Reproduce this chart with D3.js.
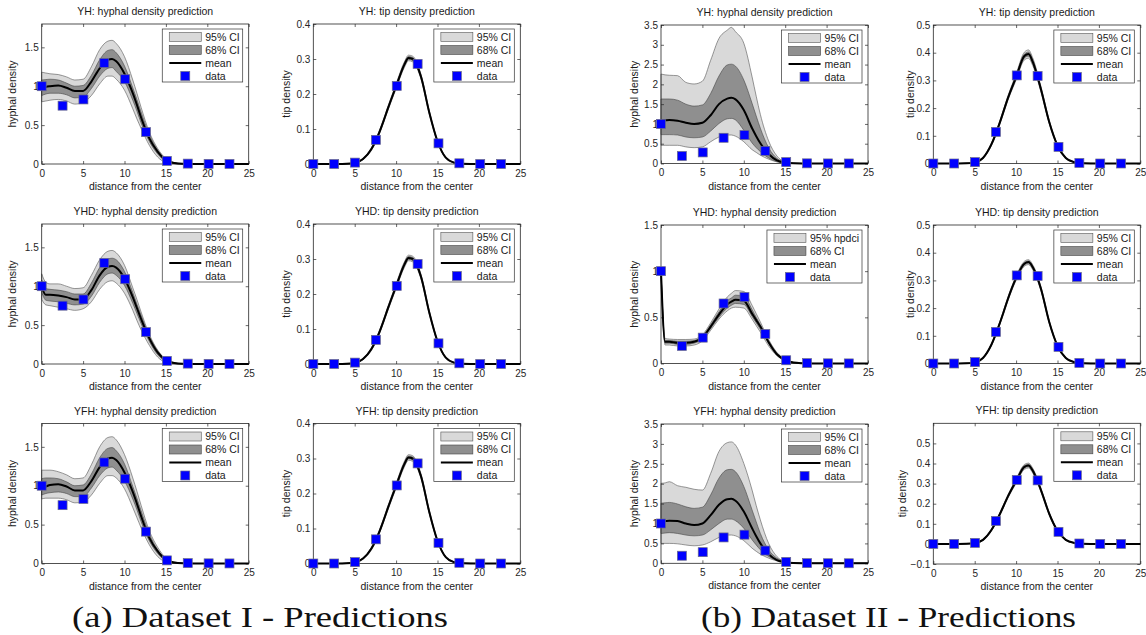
<!DOCTYPE html>
<html><head><meta charset="utf-8">
<script src="https://cdn.jsdelivr.net/npm/d3@7"></script>
<style>
html,body{margin:0;padding:0;background:#fff;}
svg{display:block;font-family:"Liberation Sans",Arial,Helvetica,sans-serif;}
</style></head><body>
<svg id="fig" width="1146" height="635"></svg>
<script>
// radial positions at which the model curves are sampled
const gridX = [0,0.5,1,2,3,4,5,6,7,8,8.5,9,10,11,11.5,12,13,14,15,16,17,18,20,25];
// measurement positions (distance from the colony center)
const dataX = [0,2.52,5.04,7.56,10.08,12.6,15.12,17.64,20.16,22.68];

// measured densities
const hypDataI  = [1.0,0.75,0.83,1.30,1.09,0.41,0.04,0.005,0.002,0.001];
const tipDataI  = [0,0,0.004,0.069,0.223,0.286,0.059,0.002,0,0];
const hypDataII = [1.0,0.19,0.28,0.65,0.72,0.32,0.035,0.004,0.002,0.001];
const tipDataII = [0,0,0.005,0.114,0.318,0.316,0.060,0.002,0,0];

// Dataset I, hyphal density, model YH
const hypI_YH_mean = [0.97,0.99,1.00,1.01,0.98,0.94,0.94,1.06,1.23,1.34,1.35,1.32,1.16,0.91,0.76,0.60,0.33,0.16,0.05,0.013,0.003,0.001,0,0];
const hypI_YH_hi95 = [1.18,1.17,1.16,1.15,1.12,1.08,1.09,1.25,1.47,1.58,1.59,1.55,1.38,1.08,0.91,0.73,0.41,0.20,0.07,0.02,0.005,0.001,0,0];
const hypI_YH_lo95 = [0.80,0.81,0.82,0.83,0.81,0.77,0.79,0.88,1.03,1.13,1.13,1.09,0.95,0.71,0.58,0.46,0.24,0.09,0.02,0.005,0.001,0,0,0];
const hypI_YH_hi68 = [1.08,1.085,1.09,1.08,1.04,1.00,1.01,1.14,1.34,1.46,1.47,1.43,1.26,0.98,0.83,0.67,0.38,0.18,0.06,0.015,0.004,0.001,0,0];
const hypI_YH_lo68 = [0.88,0.90,0.91,0.91,0.89,0.85,0.86,0.97,1.13,1.23,1.24,1.19,1.06,0.82,0.68,0.53,0.29,0.13,0.035,0.01,0.002,0,0,0];

// Dataset I, hyphal density, model YHD
const hypI_YHD_mean = [0.99,0.89,0.89,0.88,0.86,0.83,0.83,0.95,1.14,1.25,1.26,1.24,1.10,0.86,0.72,0.58,0.33,0.15,0.05,0.013,0.003,0.001,0,0];
const hypI_YHD_hi95 = [1.16,1.05,1.03,1.03,1.00,0.97,0.98,1.14,1.34,1.45,1.46,1.43,1.27,0.98,0.83,0.67,0.38,0.18,0.06,0.015,0.004,0.001,0,0];
const hypI_YHD_lo95 = [0.83,0.76,0.75,0.73,0.71,0.69,0.71,0.80,0.96,1.06,1.07,1.04,0.91,0.69,0.56,0.44,0.24,0.09,0.02,0.004,0.001,0,0,0];
const hypI_YHD_hi68 = [1.08,0.97,0.96,0.95,0.93,0.90,0.90,1.04,1.24,1.35,1.36,1.34,1.19,0.92,0.77,0.63,0.36,0.17,0.055,0.014,0.003,0.001,0,0];
const hypI_YHD_lo68 = [0.92,0.82,0.81,0.80,0.78,0.76,0.77,0.87,1.05,1.16,1.17,1.14,1.01,0.78,0.65,0.52,0.29,0.12,0.035,0.008,0.002,0,0,0];

// Dataset I, hyphal density, model YFH
const hypI_YFH_mean = [0.98,0.99,1.01,1.02,0.99,0.94,0.94,1.06,1.24,1.35,1.36,1.33,1.17,0.92,0.77,0.61,0.33,0.16,0.05,0.013,0.003,0.001,0,0];
const hypI_YFH_hi95 = [1.20,1.20,1.20,1.18,1.14,1.09,1.10,1.27,1.50,1.62,1.63,1.59,1.40,1.10,0.93,0.75,0.42,0.21,0.07,0.02,0.005,0.001,0,0];
const hypI_YFH_lo95 = [0.83,0.84,0.84,0.84,0.82,0.78,0.79,0.88,1.03,1.13,1.13,1.10,0.96,0.72,0.59,0.46,0.24,0.09,0.02,0.005,0.001,0,0,0];
const hypI_YFH_hi68 = [1.09,1.10,1.10,1.09,1.05,1.00,1.01,1.15,1.36,1.48,1.49,1.45,1.28,0.99,0.84,0.68,0.38,0.18,0.06,0.015,0.004,0.001,0,0];
const hypI_YFH_lo68 = [0.88,0.90,0.91,0.92,0.90,0.86,0.86,0.97,1.13,1.23,1.24,1.20,1.06,0.83,0.69,0.54,0.29,0.13,0.035,0.01,0.002,0,0,0];

// Dataset I, tip density (all three models give the same prediction)
const tipI_mean = [0,0,0,0,0,0.0005,0.003,0.014,0.042,0.092,0.124,0.158,0.222,0.284,0.303,0.300,0.250,0.148,0.065,0.018,0.004,0.001,0,0];
const tipI_hi95 = [0,0,0,0,0,0.001,0.004,0.016,0.046,0.097,0.129,0.164,0.229,0.292,0.311,0.308,0.257,0.153,0.068,0.020,0.005,0.001,0,0];
const tipI_lo95 = [0,0,0,0,0,0,0.002,0.012,0.038,0.087,0.119,0.152,0.215,0.276,0.295,0.292,0.243,0.143,0.062,0.016,0.003,0,0,0];
const tipI_hi68 = [0,0,0,0,0,0.0007,0.0035,0.015,0.044,0.0945,0.1265,0.161,0.2255,0.288,0.307,0.304,0.2535,0.1505,0.0665,0.019,0.0045,0.001,0,0];
const tipI_lo68 = [0,0,0,0,0,0.0003,0.0025,0.013,0.040,0.0895,0.1215,0.155,0.2185,0.280,0.299,0.296,0.2465,0.1455,0.0635,0.017,0.0035,0.0005,0,0];

// Dataset II, hyphal density, model YH
const hypII_YH_mean = [1.08,1.09,1.10,1.08,1.03,1.00,1.03,1.22,1.50,1.64,1.66,1.62,1.35,0.89,0.69,0.51,0.24,0.08,0.025,0.005,0.001,0,0,0];
const hypII_YH_hi95 = [2.26,2.24,2.23,2.22,2.05,2.01,2.08,2.61,3.16,3.37,3.44,3.33,3.04,2.19,1.70,1.24,0.57,0.19,0.04,0.005,0.001,0,0,0];
const hypII_YH_hi68 = [1.63,1.63,1.63,1.60,1.50,1.45,1.48,1.77,2.21,2.49,2.51,2.46,2.11,1.52,1.20,0.89,0.40,0.13,0.03,0.005,0.001,0,0,0];
const hypII_YH_lo68 = [0.73,0.73,0.73,0.72,0.67,0.65,0.67,0.82,1.01,1.13,1.14,1.10,0.84,0.52,0.40,0.30,0.14,0.05,0.015,0.003,0,0,0,0];
const hypII_YH_lo95 = [0.46,0.46,0.46,0.46,0.42,0.40,0.42,0.55,0.67,0.72,0.72,0.69,0.55,0.35,0.28,0.21,0.11,0.04,0.015,0.003,0,0,0,0];

// Dataset II, hyphal density, model YHD
const hypII_YHD_mean = [1.0,0.235,0.235,0.224,0.224,0.235,0.28,0.40,0.53,0.64,0.67,0.69,0.68,0.54,0.47,0.40,0.23,0.10,0.036,0.01,0.003,0.001,0,0];
const hypII_YHD_hi95 = [1.0,0.27,0.265,0.26,0.26,0.265,0.31,0.44,0.59,0.72,0.76,0.79,0.78,0.63,0.54,0.45,0.26,0.12,0.045,0.012,0.003,0.001,0,0];
const hypII_YHD_lo95 = [1.0,0.20,0.20,0.19,0.19,0.20,0.245,0.36,0.48,0.57,0.60,0.61,0.60,0.48,0.41,0.34,0.19,0.085,0.03,0.008,0.002,0,0,0];
const hypII_YHD_hi68 = [1.0,0.25,0.25,0.242,0.242,0.25,0.295,0.42,0.56,0.68,0.71,0.74,0.73,0.585,0.50,0.42,0.245,0.11,0.04,0.011,0.003,0.001,0,0];
const hypII_YHD_lo68 = [1.0,0.22,0.22,0.207,0.207,0.22,0.265,0.38,0.50,0.60,0.63,0.65,0.64,0.51,0.44,0.37,0.215,0.09,0.032,0.009,0.002,0,0,0];

// Dataset II, hyphal density, model YFH
const hypII_YFH_mean = [1.05,1.06,1.07,1.06,1.00,0.96,1.00,1.21,1.47,1.61,1.62,1.57,1.30,0.88,0.68,0.50,0.23,0.08,0.025,0.005,0.001,0,0,0];
const hypII_YFH_hi95 = [2.01,2.02,2.05,1.95,1.91,1.86,1.84,2.26,2.81,3.03,3.05,2.97,2.51,1.84,1.45,1.09,0.50,0.17,0.04,0.005,0.001,0,0,0];
const hypII_YFH_hi68 = [1.51,1.52,1.53,1.49,1.42,1.38,1.41,1.72,2.14,2.35,2.36,2.30,1.93,1.34,1.04,0.75,0.34,0.13,0.035,0.005,0.001,0,0,0];
const hypII_YFH_lo68 = [0.75,0.76,0.77,0.75,0.71,0.69,0.71,0.84,1.00,1.11,1.11,1.07,0.88,0.59,0.46,0.34,0.17,0.07,0.02,0.004,0,0,0,0];
const hypII_YFH_lo95 = [0.50,0.50,0.50,0.49,0.46,0.44,0.46,0.54,0.65,0.71,0.71,0.69,0.57,0.38,0.30,0.23,0.13,0.06,0.02,0.003,0,0,0,0];

// Dataset II, tip density, model YH
const tipII_YH_mean = [0,0,0,0,0,0.0005,0.004,0.020,0.068,0.145,0.190,0.235,0.312,0.388,0.395,0.368,0.268,0.150,0.065,0.020,0.005,0.001,0,0];
const tipII_YH_hi95 = [0,0,0,0,0,0.001,0.005,0.023,0.073,0.151,0.197,0.243,0.323,0.402,0.410,0.382,0.278,0.156,0.069,0.022,0.006,0.001,0,0];
const tipII_YH_lo95 = [0,0,0,0,0,0,0.003,0.017,0.063,0.139,0.183,0.227,0.301,0.374,0.380,0.354,0.258,0.144,0.061,0.018,0.004,0,0,0];
const tipII_YH_hi68 = [0,0,0,0,0,0.0007,0.0045,0.0215,0.0705,0.148,0.1935,0.239,0.3175,0.395,0.4025,0.375,0.273,0.153,0.067,0.021,0.0055,0.001,0,0];
const tipII_YH_lo68 = [0,0,0,0,0,0.0003,0.0035,0.0185,0.0655,0.142,0.1865,0.231,0.3065,0.381,0.3875,0.361,0.263,0.147,0.063,0.019,0.0045,0.0005,0,0];

// Dataset II, tip density, model YHD
const tipII_YHD_mean = [0,0,0,0,0,0.0005,0.004,0.020,0.067,0.143,0.187,0.232,0.308,0.360,0.366,0.348,0.270,0.150,0.064,0.020,0.005,0.001,0,0];
const tipII_YHD_hi95 = [0,0,0,0,0,0.001,0.005,0.022,0.071,0.148,0.193,0.239,0.316,0.369,0.375,0.357,0.278,0.155,0.067,0.022,0.006,0.001,0,0];
const tipII_YHD_lo95 = [0,0,0,0,0,0,0.003,0.018,0.063,0.138,0.181,0.225,0.300,0.351,0.357,0.339,0.262,0.145,0.061,0.018,0.004,0,0,0];
const tipII_YHD_hi68 = [0,0,0,0,0,0.0007,0.0045,0.021,0.069,0.1455,0.190,0.2355,0.312,0.3645,0.3705,0.3525,0.274,0.1525,0.0655,0.021,0.0055,0.001,0,0];
const tipII_YHD_lo68 = [0,0,0,0,0,0.0003,0.0035,0.019,0.065,0.1405,0.184,0.2285,0.304,0.3555,0.3615,0.3435,0.266,0.1475,0.0625,0.019,0.0045,0.0005,0,0];

// Dataset II, tip density, model YFH
const tipII_YFH_mean = [0,0,0,0,0,0.0005,0.004,0.020,0.068,0.145,0.190,0.235,0.312,0.383,0.390,0.365,0.268,0.150,0.065,0.020,0.005,0.001,0,0];
const tipII_YFH_hi95 = [0,0,0,0,0,0.001,0.005,0.023,0.073,0.151,0.197,0.243,0.323,0.395,0.402,0.377,0.277,0.156,0.069,0.022,0.006,0.001,0,0];
const tipII_YFH_lo95 = [0,0,0,0,0,0,0.003,0.017,0.063,0.139,0.183,0.227,0.301,0.371,0.378,0.353,0.259,0.144,0.061,0.018,0.004,0,0,0];
const tipII_YFH_hi68 = [0,0,0,0,0,0.0007,0.0045,0.0215,0.0705,0.148,0.1935,0.239,0.3175,0.389,0.396,0.371,0.2725,0.153,0.067,0.021,0.0055,0.001,0,0];
const tipII_YFH_lo68 = [0,0,0,0,0,0.0003,0.0035,0.0185,0.0655,0.142,0.1865,0.231,0.3065,0.377,0.384,0.359,0.2635,0.147,0.063,0.019,0.0045,0.0005,0,0];

// axis ticks
const xTicks = [0,5,10,15,20,25];
const yTicksHyp15 = [0,0.5,1,1.5];
const yTicksHyp35 = [0,0.5,1,1.5,2,2.5,3,3.5];
const yTicksTip04 = [0,0.1,0.2,0.3,0.4];
const yTicksTip05 = [0,0.1,0.2,0.3,0.4,0.5];
const yTicksTipNeg = [-0.1,0,0.1,0.2,0.3,0.4,0.5];

// legend and caption texts
const legendLabels = ["95% CI","68% CI","mean","data"];
const legendLabelsHpd = ["95% hpdci","68% CI","mean","data"];
const captions = ["(a) Dataset I - Predictions","(b) Dataset II - Predictions"];

const svg = d3.select("#fig");
const W = 207;
const MS = 9; // marker side
const fmt = d3.format("~g");

function drawPanel(p) {
  const g = svg.append("g");
  const x = d3.scaleLinear().domain([0,25]).range([p.L, p.L + W]);
  const y = d3.scaleLinear().domain(p.yDomain).range([p.T + p.H, p.T]);
  const band = (lo, hi) => d3.area()
      .x((d,i) => x(gridX[i])).y0((d,i) => y(lo[i])).y1((d,i) => y(hi[i]))
      .curve(d3.curveMonotoneX);

  // credible bands
  g.append("path").datum(p.hi95).attr("d", band(p.lo95, p.hi95))
    .attr("fill","#d9d9d9").attr("stroke","#555").attr("stroke-width",0.6);
  g.append("path").datum(p.hi68).attr("d", band(p.lo68, p.hi68))
    .attr("fill","#8f8f8f").attr("stroke","#444").attr("stroke-width",0.6);

  // axes: labelled bottom/left, tick-only top/right, ticks pointing inward
  const ax = g.append("g").attr("class","axes");
  ax.append("g").attr("transform",`translate(0,${p.T + p.H})`)
    .call(d3.axisBottom(x).tickValues(xTicks).tickSizeInner(-3).tickSizeOuter(0).tickPadding(5.5).tickFormat(fmt));
  ax.append("g").attr("transform",`translate(0,${p.T})`)
    .call(d3.axisTop(x).tickValues(xTicks).tickSizeInner(-3).tickSizeOuter(0).tickFormat(""));
  ax.append("g").attr("transform",`translate(${p.L},0)`)
    .call(d3.axisLeft(y).tickValues(p.yTicks).tickSizeInner(-3).tickSizeOuter(0).tickPadding(3).tickFormat(fmt));
  ax.append("g").attr("transform",`translate(${p.L + W},0)`)
    .call(d3.axisRight(y).tickValues(p.yTicks).tickSizeInner(-3).tickSizeOuter(0).tickFormat(""));
  ax.selectAll(".domain").remove();
  ax.selectAll(".tick line").attr("stroke","#262626").attr("stroke-width",0.7);
  ax.selectAll(".tick text").attr("fill","#262626").attr("font-size",10)
    .attr("font-family",'"Liberation Sans",Arial,sans-serif');
  ax.append("rect").attr("x",p.L).attr("y",p.T).attr("width",W).attr("height",p.H)
    .attr("fill","none").attr("stroke","#262626").attr("stroke-width",0.8);

  // posterior mean
  g.append("path").datum(p.mean)
    .attr("d", d3.line().x((d,i) => x(gridX[i])).y(d => y(d)).curve(d3.curveMonotoneX))
    .attr("fill","none").attr("stroke","#000").attr("stroke-width",2);

  // observations
  g.selectAll("rect.obs").data(p.data).join("rect").attr("class","obs")
    .attr("x",(d,i) => x(dataX[i]) - MS/2).attr("y",d => y(d) - MS/2)
    .attr("width",MS).attr("height",MS)
    .attr("fill","#0000ff").attr("stroke","#6a6a8a").attr("stroke-width",0.7);

  // title, axis labels
  g.append("text").attr("x",p.L + W/2).attr("y",p.T - 9).attr("text-anchor","middle")
    .attr("font-size",10.5).attr("fill","#1a1a1a").text(p.title);
  g.append("text").attr("x",p.L + W/2).attr("y",p.T + p.H + 26).attr("text-anchor","middle")
    .attr("font-size",10.5).attr("fill","#1a1a1a").text("distance from the center");
  g.append("text")
    .attr("transform",`translate(${p.L - p.ylabOff},${p.T + p.H/2}) rotate(-90)`)
    .attr("text-anchor","middle").attr("dy","0.35em")
    .attr("font-size",10.5).attr("fill","#1a1a1a").text(p.ylabel);

  // legend
  const lg = g.append("g");
  const texts = p.legend.map((t,i) => lg.append("text").attr("font-size",10.5).attr("fill","#1a1a1a")
      .attr("dy","0.35em").text(t));
  const tw = d3.max(texts, t => t.node().getComputedTextLength());
  const legW = 7 + 32 + 4 + tw + 3, legH = 53;
  const lx = p.L + W - 6 - legW, ly = p.T + 5;
  lg.insert("rect","text").attr("x",lx).attr("y",ly).attr("width",legW).attr("height",legH)
    .attr("fill","#fff").attr("stroke","#333").attr("stroke-width",0.7);
  const rowY = i => ly + 8 + i*13;
  texts.forEach((t,i) => t.attr("x", lx + 43).attr("y", rowY(i)));
  lg.append("rect").attr("x",lx+7).attr("y",rowY(0)-4.5).attr("width",32).attr("height",9)
    .attr("fill","#d9d9d9").attr("stroke","#555").attr("stroke-width",0.6);
  lg.append("rect").attr("x",lx+7).attr("y",rowY(1)-4.5).attr("width",32).attr("height",9)
    .attr("fill","#8f8f8f").attr("stroke","#444").attr("stroke-width",0.6);
  lg.append("line").attr("x1",lx+7).attr("x2",lx+39).attr("y1",rowY(2)).attr("y2",rowY(2))
    .attr("stroke","#000").attr("stroke-width",2);
  lg.append("rect").attr("x",lx+23-MS/2).attr("y",rowY(3)-MS/2).attr("width",MS).attr("height",MS)
    .attr("fill","#0000ff").attr("stroke","#6a6a8a").attr("stroke-width",0.7);
}

const colL = [41.7, 313.3, 661, 933.3];
const rowTA = [24, 224, 423.5], rowTB = [25, 225, 424];

const panels = [
  {L:colL[0], T:rowTA[0], H:140, title:"YH: hyphal density prediction", ylabel:"hyphal density", ylabOff:29,
   yDomain:[0,1.8], yTicks:yTicksHyp15, legend:legendLabels, data:hypDataI,
   mean:hypI_YH_mean, hi95:hypI_YH_hi95, lo95:hypI_YH_lo95, hi68:hypI_YH_hi68, lo68:hypI_YH_lo68},
  {L:colL[1], T:rowTA[0], H:140, title:"YH: tip density prediction", ylabel:"tip density", ylabOff:27,
   yDomain:[0,0.4], yTicks:yTicksTip04, legend:legendLabels, data:tipDataI,
   mean:tipI_mean, hi95:tipI_hi95, lo95:tipI_lo95, hi68:tipI_hi68, lo68:tipI_lo68},
  {L:colL[2], T:rowTB[0], H:138.5, title:"YH: hyphal density prediction", ylabel:"hyphal density", ylabOff:27,
   yDomain:[0,3.5], yTicks:yTicksHyp35, legend:legendLabels, data:hypDataII,
   mean:hypII_YH_mean, hi95:hypII_YH_hi95, lo95:hypII_YH_lo95, hi68:hypII_YH_hi68, lo68:hypII_YH_lo68},
  {L:colL[3], T:rowTB[0], H:138.5, title:"YH: tip density prediction", ylabel:"tip density", ylabOff:23,
   yDomain:[0,0.5], yTicks:yTicksTip05, legend:legendLabels, data:tipDataII,
   mean:tipII_YH_mean, hi95:tipII_YH_hi95, lo95:tipII_YH_lo95, hi68:tipII_YH_hi68, lo68:tipII_YH_lo68},

  {L:colL[0], T:rowTA[1], H:140, title:"YHD: hyphal density prediction", ylabel:"hyphal density", ylabOff:29,
   yDomain:[0,1.8], yTicks:yTicksHyp15, legend:legendLabels, data:hypDataI,
   mean:hypI_YHD_mean, hi95:hypI_YHD_hi95, lo95:hypI_YHD_lo95, hi68:hypI_YHD_hi68, lo68:hypI_YHD_lo68},
  {L:colL[1], T:rowTA[1], H:140, title:"YHD: tip density prediction", ylabel:"tip density", ylabOff:27,
   yDomain:[0,0.4], yTicks:yTicksTip04, legend:legendLabels, data:tipDataI,
   mean:tipI_mean, hi95:tipI_hi95, lo95:tipI_lo95, hi68:tipI_hi68, lo68:tipI_lo68},
  {L:colL[2], T:rowTB[1], H:138.5, title:"YHD: hyphal density prediction", ylabel:"hyphal density", ylabOff:27,
   yDomain:[0,1.5], yTicks:yTicksHyp15, legend:legendLabelsHpd, data:hypDataII,
   mean:hypII_YHD_mean, hi95:hypII_YHD_hi95, lo95:hypII_YHD_lo95, hi68:hypII_YHD_hi68, lo68:hypII_YHD_lo68},
  {L:colL[3], T:rowTB[1], H:138.5, title:"YHD: tip density prediction", ylabel:"tip density", ylabOff:23,
   yDomain:[0,0.5], yTicks:yTicksTip05, legend:legendLabels, data:tipDataII,
   mean:tipII_YHD_mean, hi95:tipII_YHD_hi95, lo95:tipII_YHD_lo95, hi68:tipII_YHD_hi68, lo68:tipII_YHD_lo68},

  {L:colL[0], T:rowTA[2], H:140, title:"YFH: hyphal density prediction", ylabel:"hyphal density", ylabOff:29,
   yDomain:[0,1.8], yTicks:yTicksHyp15, legend:legendLabels, data:hypDataI,
   mean:hypI_YFH_mean, hi95:hypI_YFH_hi95, lo95:hypI_YFH_lo95, hi68:hypI_YFH_hi68, lo68:hypI_YFH_lo68},
  {L:colL[1], T:rowTA[2], H:140, title:"YFH: tip density prediction", ylabel:"tip density", ylabOff:27,
   yDomain:[0,0.4], yTicks:yTicksTip04, legend:legendLabels, data:tipDataI,
   mean:tipI_mean, hi95:tipI_hi95, lo95:tipI_lo95, hi68:tipI_hi68, lo68:tipI_lo68},
  {L:colL[2], T:rowTB[2], H:139.3, title:"YFH: hyphal density prediction", ylabel:"hyphal density", ylabOff:27,
   yDomain:[0,3.5], yTicks:yTicksHyp35, legend:legendLabels, data:hypDataII,
   mean:hypII_YFH_mean, hi95:hypII_YFH_hi95, lo95:hypII_YFH_lo95, hi68:hypII_YFH_hi68, lo68:hypII_YFH_lo68},
  {L:colL[3], T:rowTB[2] - 0.7, H:140.7, title:"YFH: tip density prediction", ylabel:"tip density", ylabOff:30.5,
   yDomain:[-0.1,0.6], yTicks:yTicksTipNeg, legend:legendLabels, data:tipDataII,
   mean:tipII_YFH_mean, hi95:tipII_YFH_hi95, lo95:tipII_YFH_lo95, hi68:tipII_YFH_hi68, lo68:tipII_YFH_lo68}
];

panels.forEach(drawPanel);

// sub-figure captions
const capX = [72, 701], capW = [376, 375];
captions.forEach((c,i) => {
  svg.append("text").attr("x",capX[i]).attr("y",627)
    .attr("font-family",'"Liberation Serif","Times New Roman",serif')
    .attr("font-size",29).attr("fill","#111")
    .attr("textLength",capW[i]).attr("lengthAdjust","spacingAndGlyphs")
    .text(c);
});
</script>
</body></html>
